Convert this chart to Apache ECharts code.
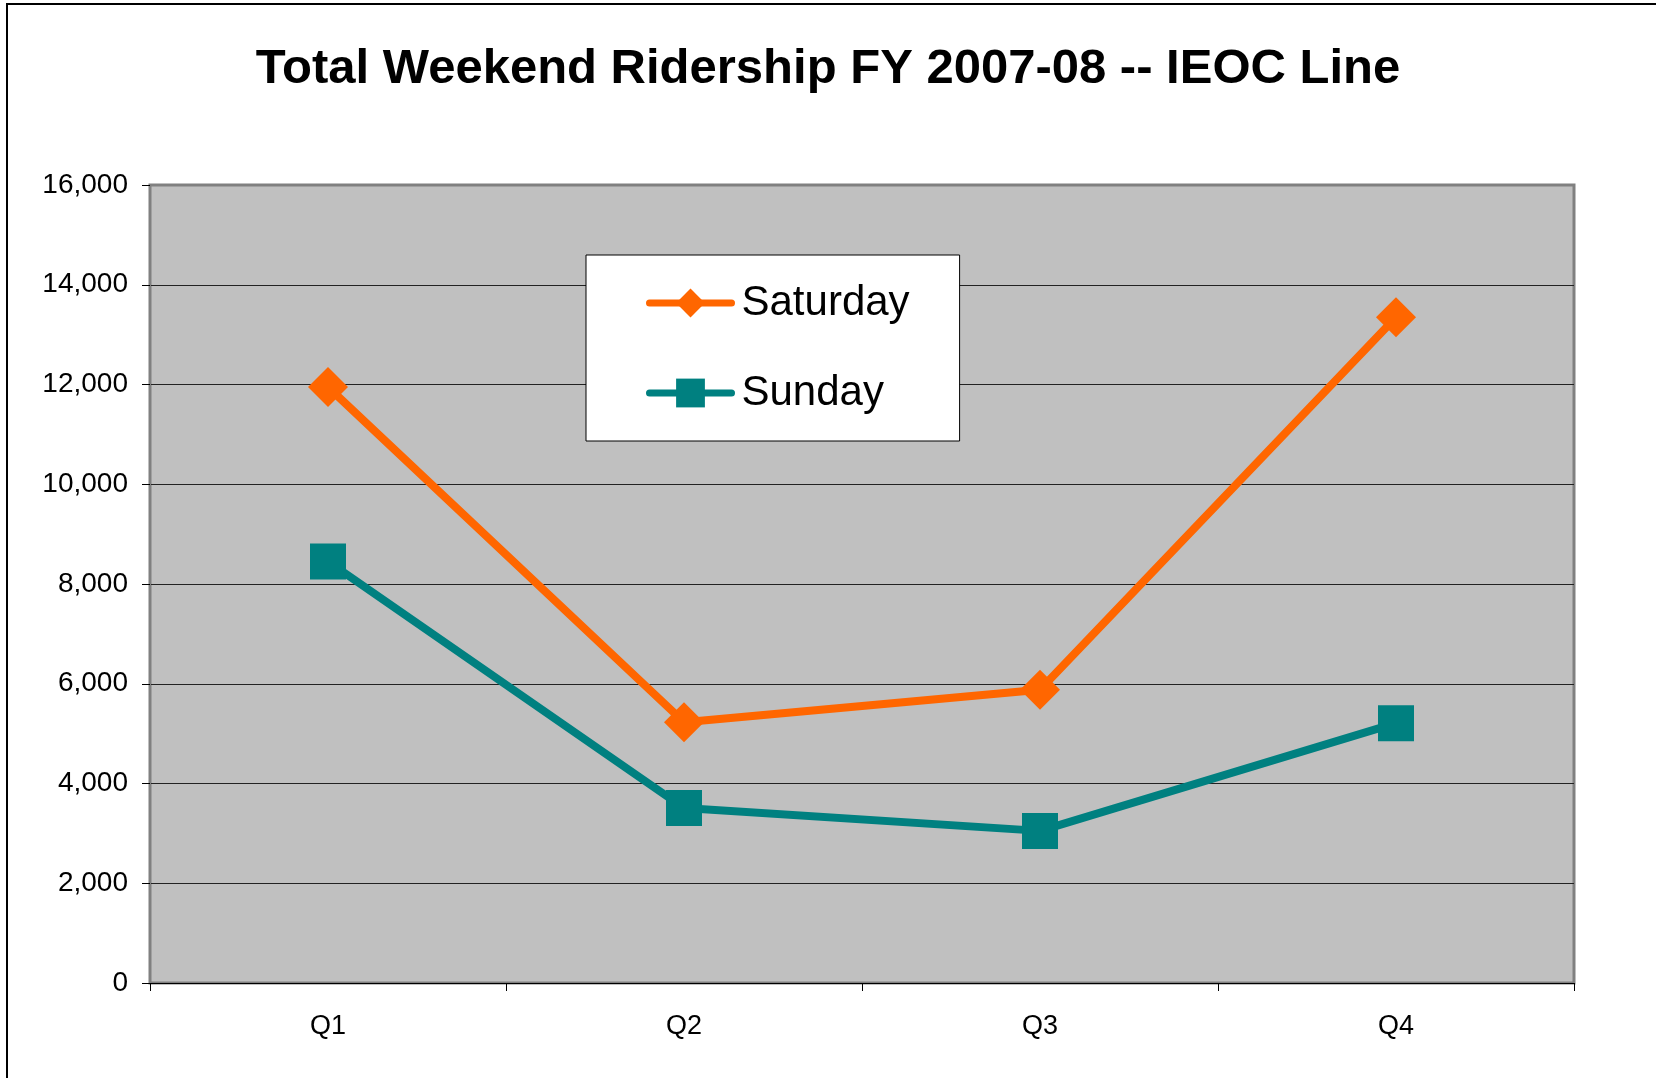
<!DOCTYPE html>
<html>
<head>
<meta charset="utf-8">
<script src="https://cdn.jsdelivr.net/npm/echarts@6/dist/echarts.min.js"></script>
<style>
  html, body { margin: 0; padding: 0; background: #fff; }
  #chart { width: 1656px; height: 1078px; }
</style>
</head>
<body>
<div id="chart"></div>
<script>
const quarters = ['Q1', 'Q2', 'Q3', 'Q4'];
const saturday = [11950, 5230, 5880, 13350];
const sunday = [8450, 3510, 3050, 5210];
const seriesNames = ['Saturday', 'Sunday'];

const FONT = '"Liberation Sans", Arial, sans-serif';

const chart = echarts.init(document.getElementById('chart'));

chart.setOption({
  backgroundColor: '#fff',
  animation: false,
  title: {
    text: 'Total Weekend Ridership FY 2007-08 -- IEOC Line',
    left: 'center',
    top: 40,
    textStyle: { fontFamily: FONT, fontSize: 49, fontWeight: 'bold', color: '#000' },
  },
  graphic: [{
    type: 'rect',
    shape: { x: 7, y: 4, width: 1700, height: 1200 },
    style: { fill: 'none', stroke: '#000', lineWidth: 2 },
    silent: true,
  }],
  legend: {
    data: seriesNames,
    orient: 'vertical',
    left: 586,
    top: 255,
    backgroundColor: '#fff',
    borderColor: '#000',
    borderWidth: 1,
    padding: [27, 50, 27, 60],
    itemWidth: 82,
    itemHeight: 36,
    itemGap: 48,
    lineStyle: { width: 7, cap: 'round' },
    textStyle: { fontFamily: FONT, fontSize: 42, color: '#000', padding: [0, 0, 0, 5] },
  },
  grid: { left: 150, right: 82, top: 185, bottom: 95, show: true, backgroundColor: '#c0c0c0', borderColor: '#808080', borderWidth: 3 },
  xAxis: {
    type: 'category',
    data: quarters,
    boundaryGap: true,
    axisLine: { lineStyle: { color: '#000', width: 1 } },
    axisTick: { show: true, length: 8, lineStyle: { color: '#000' } },
    axisLabel: { fontFamily: FONT, fontSize: 27, color: '#000', margin: 30 },
  },
  yAxis: {
    type: 'value',
    min: 0,
    max: 16000,
    interval: 2000,
    axisLine: { show: true, lineStyle: { color: '#808080', width: 2 } },
    axisTick: { show: true, length: 8, lineStyle: { color: '#000' } },
    axisLabel: {
      fontFamily: FONT, fontSize: 28, color: '#000', margin: 22,
      formatter: v => v.toLocaleString('en-US'),
    },
    splitLine: { showMaxLine: false, lineStyle: { color: '#222', width: 1 } },
  },
  series: [
    {
      name: seriesNames[0],
      type: 'line',
      data: saturday,
      symbol: 'diamond',
      symbolSize: 40,
      itemStyle: { color: '#ff6600' },
      lineStyle: { color: '#ff6600', width: 8 },
    },
    {
      name: seriesNames[1],
      type: 'line',
      data: sunday,
      symbol: 'rect',
      symbolSize: 36,
      itemStyle: { color: '#008080' },
      lineStyle: { color: '#008080', width: 8 },
    },
  ],
});
</script>
</body>
</html>
